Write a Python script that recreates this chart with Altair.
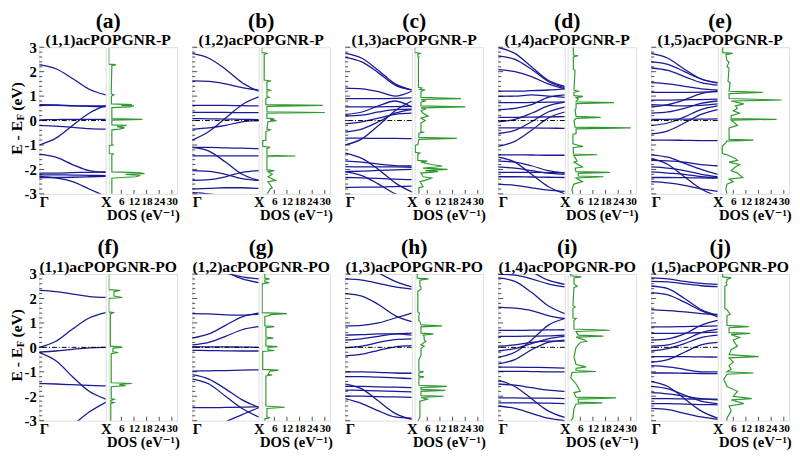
import altair as alt
import pandas as pd

# ---------------- data ----------------
K = [0.0, 0.25, 0.5, 0.75, 1.0]          # k-points Γ ... X
LETTERS = ["(a)", "(b)", "(c)", "(d)", "(e)", "(f)", "(g)", "(h)", "(i)", "(j)"]
NAMES = ["(1,1)acPOPGNR-P", "(1,2)acPOPGNR-P", "(1,3)acPOPGNR-P", "(1,4)acPOPGNR-P", "(1,5)acPOPGNR-P",
         "(1,1)acPOPGNR-PO", "(1,2)acPOPGNR-PO", "(1,3)acPOPGNR-PO", "(1,4)acPOPGNR-PO", "(1,5)acPOPGNR-PO"]
DOS_TICKS = [6, 12, 18, 24, 30]
Y_TICKS = [-3, -2, -1, 0, 1, 2, 3]
Y_MINOR = [-2.8, -2.6, -2.4, -2.2, -1.8, -1.6, -1.4, -1.2, -0.8, -0.6, -0.4, -0.2,
           0.2, 0.4, 0.6, 0.8, 1.2, 1.4, 1.6, 1.8, 2.2, 2.4, 2.6, 2.8]

BANDS_A = [[2.29, 2.12, 1.72, 1.28, 1.05], [0.65, 0.64, 0.61, 0.58, 0.56], [0.62, 0.62, 0.6, 0.6, 0.6],
           [-1.0, -0.72, -0.2, 0.3, 0.62], [0.03, 0.04, 0.05, 0.05, 0.05], [-0.2, -0.23, -0.28, -0.33, -0.35],
           [-1.37, -1.5, -1.8, -2.05, -2.12], [-2.15, -2.15, -2.13, -2.12, -2.1], [-2.22, -2.22, -2.23, -2.24, -2.25],
           [-2.33, -2.33, -2.32, -2.3, -2.28], [-2.28, -2.35, -2.5, -2.8, -3.1]]
DOS_A = [(3, 0), (2.31, 0), (2.29, 3.5), (2.25, 1.5), (1.1, 1.2), (1.05, 2.5), (1.0, 1.3), (0.68, 1.3), (0.65, 11),
         (0.62, 6), (0.6, 12), (0.56, 10), (0.53, 1.5), (0.08, 1.5), (0.05, 16), (0.02, 1.5), (-0.18, 1.5), (-0.2, 8.5),
         (-0.25, 4), (-0.3, 7.5), (-0.35, 5), (-0.38, 1.5), (-0.98, 1.5), (-1.0, 2), (-1.02, 0.2), (-1.35, 0.2),
         (-1.37, 2.5), (-1.4, 1.5), (-2.1, 1.5), (-2.13, 14), (-2.17, 17), (-2.2, 8), (-2.25, 15), (-2.3, 13),
         (-2.33, 6), (-2.36, 1.5), (-3, 1.5)]

BANDS_B = [[2.75, 2.55, 2.1, 1.55, 1.2], [1.62, 1.6, 1.5, 1.35, 1.24], [-0.8, -0.45, 0.1, 0.65, 0.97],
           [0.62, 0.62, 0.62, 0.61, 0.6], [0.33, 0.33, 0.33, 0.32, 0.32], [0.08, 0.07, 0.06, 0.05, 0.04],
           [-0.35, -0.3, -0.2, -0.05, 0.0], [-1.1, -1.1, -1.12, -1.13, -1.15], [-1.45, -1.45, -1.45, -1.45, -1.45],
           [-1.1, -1.25, -1.7, -2.2, -2.45], [-2.05, -2.08, -2.2, -2.38, -2.45], [-2.45, -2.42, -2.3, -2.12, -2.05],
           [-2.8, -2.78, -2.75, -2.75, -2.78], [-2.95, -3.0, -3.1, -3.2, -3.3]]
DOS_B = [(3, 0), (2.78, 0), (2.75, 2.5), (2.7, 1.2), (1.66, 1.2), (1.62, 4.5), (1.58, 2.5), (1.28, 2.5), (1.24, 4),
         (1.2, 2.5), (0.98, 2.5), (0.95, 3.5), (0.9, 2), (0.65, 2), (0.62, 29), (0.58, 2.5), (0.36, 2.5), (0.33, 30),
         (0.3, 2.5), (0.1, 2.5), (0.07, 6), (0.03, 4), (0.0, 7), (-0.05, 3), (-0.35, 2.5), (-0.38, 4), (-0.45, 2),
         (-0.8, 2), (-0.83, 0.5), (-1.05, 0.5), (-1.1, 4), (-1.14, 2.5), (-1.42, 2.5), (-1.45, 16), (-1.48, 2.5),
         (-2.02, 2.5), (-2.05, 6), (-2.1, 3), (-2.2, 5), (-2.3, 3), (-2.45, 6.5), (-2.5, 3), (-2.75, 5), (-2.8, 4),
         (-2.95, 3), (-3, 2.5)]

BANDS_C = [[2.75, 2.55, 2.05, 1.5, 1.25], [2.59, 2.4, 1.95, 1.45, 1.25], [1.33, 1.3, 1.18, 1.0, 1.2],
           [0.9, 0.9, 0.9, 0.91, 0.93], [-1.0, -0.75, -0.2, 0.4, 0.8], [0.56, 0.56, 0.56, 0.57, 0.58],
           [0.25, 0.35, 0.6, 0.8, 0.55], [0.18, 0.22, 0.35, 0.45, 0.47], [-0.13, -0.05, 0.1, 0.25, 0.3],
           [-0.47, -0.35, -0.05, 0.3, 0.45], [-0.72, -0.72, -0.73, -0.73, -0.74], [-1.33, -1.55, -2.0, -2.55, -2.92],
           [-1.66, -1.7, -1.78, -1.84, -1.86], [-1.89, -1.9, -1.9, -1.9, -1.92], [-2.09, -2.07, -2.04, -2.02, -2.0],
           [-2.33, -2.35, -2.37, -2.4, -2.42], [-2.1, -2.25, -2.6, -3.0, -3.3], [-2.73, -2.72, -2.72, -2.7, -2.68]]
DOS_C = [(3, 0), (2.78, 0), (2.75, 2.6), (2.7, 1.5), (2.62, 1.5), (2.59, 2), (2.55, 1.8), (1.36, 1.8), (1.33, 3.4),
         (1.28, 2.5), (1.25, 5), (1.2, 3), (0.95, 3), (0.9, 22), (0.86, 3), (0.8, 5), (0.75, 3), (0.6, 3), (0.56, 24),
         (0.52, 3), (0.47, 5), (0.4, 3), (0.3, 4), (0.18, 6.4), (0.1, 3), (0.0, 5), (-0.1, 3), (-0.45, 3), (-0.48, 4),
         (-0.52, 2), (-0.69, 2), (-0.73, 20), (-0.77, 2), (-0.98, 1.5), (-1.02, 0.3), (-1.3, 0.3), (-1.33, 2.5),
         (-1.38, 1.5), (-1.63, 1.5), (-1.66, 6), (-1.7, 3), (-1.8, 8), (-1.86, 13), (-1.9, 10), (-1.95, 4),
         (-2.0, 15.6), (-2.05, 5), (-2.09, 11), (-2.15, 3), (-2.3, 4), (-2.35, 8), (-2.42, 6), (-2.5, 2.5),
         (-2.7, 4), (-2.75, 2), (-3, 2)]

BANDS_D = [[2.98, 2.75, 2.2, 1.65, 1.4], [2.65, 2.5, 2.1, 1.6, 1.35], [2.08, 2.0, 1.8, 1.5, 1.3],
           [1.2, 1.2, 1.22, 1.25, 1.3], [0.99, 1.0, 1.05, 1.0, 0.95], [0.73, 0.73, 0.74, 0.75, 0.76],
           [0.45, 0.5, 0.65, 0.95, 1.05], [0.13, 0.13, 0.14, 0.15, 0.16], [-0.05, 0.05, 0.3, 0.6, 0.75],
           [-0.3, -0.3, -0.3, -0.31, -0.32], [-0.53, -0.4, -0.05, 0.35, 0.55], [-1.06, -0.85, -0.4, 0.1, 0.35],
           [-1.4, -1.4, -1.41, -1.42, -1.42], [-1.66, -1.7, -1.85, -2.05, -2.15], [-1.9, -1.95, -2.05, -2.15, -2.2],
           [-2.12, -2.12, -2.12, -2.13, -2.13], [-2.3, -2.3, -2.31, -2.32, -2.33], [-1.5, -1.7, -2.2, -2.7, -3.0],
           [-2.6, -2.65, -2.75, -2.85, -2.9]]
DOS_D = [(3, 2.7), (2.68, 2.7), (2.65, 5), (2.6, 2.7), (2.1, 2.7), (2.06, 3.5), (1.25, 3), (1.2, 5), (1.15, 3),
         (1.02, 3), (0.99, 7.3), (0.93, 4), (0.88, 5), (0.77, 4), (0.73, 22), (0.69, 4), (0.5, 4), (0.45, 3.5),
         (0.17, 4), (0.13, 15.7), (0.09, 4), (0.0, 3), (-0.27, 3.5), (-0.3, 30), (-0.34, 4), (-0.53, 4), (-0.56, 2.5),
         (-0.95, 2.5), (-1.06, 7.3), (-1.1, 2.7), (-1.37, 2.7), (-1.4, 14), (-1.43, 3), (-1.66, 4.5), (-1.7, 3),
         (-1.9, 7), (-1.95, 3.5), (-2.09, 4), (-2.12, 20), (-2.16, 5), (-2.27, 5), (-2.3, 17), (-2.35, 4),
         (-2.5, 7), (-2.6, 3), (-2.8, 2), (-3, 2.5)]

BANDS_E = [[2.75, 2.55, 2.1, 1.7, 1.53], [2.4, 2.3, 2.0, 1.7, 1.55], [2.15, 2.05, 1.8, 1.55, 1.45],
           [1.55, 1.5, 1.4, 1.3, 1.25], [1.15, 1.15, 1.15, 1.16, 1.18], [0.84, 0.84, 0.85, 0.86, 0.88],
           [0.55, 0.65, 0.85, 1.1, 1.2], [0.65, 0.62, 0.6, 0.62, 0.68], [0.3, 0.35, 0.5, 0.7, 0.8],
           [0.05, 0.05, 0.06, 0.06, 0.07], [-0.2, -0.1, 0.15, 0.45, 0.6], [-0.55, -0.42, -0.1, 0.25, 0.45],
           [-0.8, -0.8, -0.81, -0.82, -0.82], [-1.4, -1.5, -1.75, -2.0, -2.2], [-1.63, -1.65, -1.7, -1.8, -1.85],
           [-1.9, -1.95, -2.05, -2.2, -2.3], [-2.1, -2.15, -2.2, -2.3, -2.33], [-2.33, -2.33, -2.34, -2.35, -2.36],
           [-1.55, -1.8, -2.3, -2.8, -3.1], [-2.5, -2.55, -2.65, -2.8, -2.9]]
DOS_E = [(3, 1), (2.78, 1), (2.75, 5.7), (2.7, 2.5), (2.45, 3), (2.4, 4), (2.2, 3), (2.15, 4), (1.6, 3.5),
         (1.55, 4.5), (1.2, 4), (1.15, 20), (1.1, 4), (0.9, 4), (0.84, 29), (0.8, 5), (0.68, 11), (0.6, 7), (0.5, 8),
         (0.4, 6), (0.3, 9), (0.2, 5), (0.08, 5), (0.05, 26.6), (0.02, 5), (-0.2, 8), (-0.3, 4), (-0.55, 4),
         (-0.77, 4), (-0.8, 15.6), (-0.84, 3), (-0.95, 2), (-1.05, 0.8), (-1.35, 0.8), (-1.4, 3), (-1.55, 7),
         (-1.63, 8), (-1.7, 4), (-1.8, 9), (-1.9, 7), (-2.05, 5), (-2.15, 8), (-2.33, 10.5), (-2.4, 4), (-2.5, 6),
         (-2.6, 3), (-2.8, 2.5), (-3, 3)]

BANDS_F = [[2.33, 2.28, 2.18, 2.08, 2.04], [0.0, 0.25, 0.75, 1.2, 1.42], [-0.2, -0.15, -0.08, -0.02, 0.0],
           [-0.22, -0.55, -1.2, -1.8, -2.12], [-1.48, -1.5, -1.53, -1.56, -1.58], [-4.2, -3.8, -3.2, -2.65, -2.25]]
DOS_F = [(3, 0), (2.36, 0), (2.33, 5.5), (2.28, 2.5), (2.1, 2.5), (2.04, 6.5), (2.0, 0), (1.45, 0), (1.42, 2.2),
         (1.36, 0.8), (0.05, 0.8), (0.01, 6.5), (-0.04, 2), (-0.18, 2), (-0.21, 4.5), (-0.26, 1.2), (-1.45, 1.2),
         (-1.48, 11), (-1.52, 5), (-1.57, 8), (-1.61, 1.2), (-2.1, 1.2), (-2.13, 2.5), (-2.17, 1), (-2.23, 1),
         (-2.26, 2.5), (-2.3, 1), (-3, 1)]

BANDS_G = [[3.5, 3.3, 3.05, 2.88, 2.8], [3.7, 3.45, 3.1, 2.8, 2.65], [1.38, 1.37, 1.33, 1.32, 1.36],
           [0.38, 0.55, 0.9, 1.25, 1.4], [0.1, 0.2, 0.45, 0.72, 0.85], [0.03, 0.02, 0.02, 0.01, 0.0],
           [-0.12, -0.13, -0.14, -0.15, -0.15], [-0.97, -0.96, -0.95, -0.93, -0.92], [-1.12, -1.3, -1.7, -2.15, -2.45],
           [-1.3, -1.5, -2.0, -2.5, -2.85], [-2.47, -2.47, -2.46, -2.45, -2.43], [-3.6, -3.35, -3.05, -2.75, -2.47]]
DOS_G = [(3, 1.5), (2.83, 1.5), (2.8, 3.7), (2.76, 1.5), (2.68, 1.5), (2.65, 3.5), (2.6, 0.2), (1.42, 0.2),
         (1.38, 12), (1.34, 4), (1.3, 4), (1.26, 1.5), (0.88, 1.5), (0.85, 6), (0.8, 2), (0.42, 2), (0.38, 5.5),
         (0.34, 2), (0.06, 2), (0.03, 7.5), (0.0, 3), (-0.1, 3), (-0.13, 6), (-0.17, 0.5), (-0.9, 0.5), (-0.93, 8),
         (-0.97, 4), (-1.1, 3), (-1.13, 5), (-1.17, 2), (-2.4, 2), (-2.45, 11), (-2.5, 2.5), (-2.85, 2.5),
         (-2.88, 4), (-2.92, 1.5), (-3, 1.5)]

BANDS_H = [[2.8, 2.75, 2.62, 2.47, 2.38], [3.8, 3.45, 3.05, 2.7, 2.47], [2.2, 2.1, 1.75, 1.3, 1.05],
           [0.88, 0.9, 1.0, 1.2, 1.4], [0.5, 0.52, 0.55, 0.55, 0.5], [0.3, 0.35, 0.45, 0.55, 0.58],
           [-0.02, 0.05, 0.2, 0.32, 0.35], [-0.35, -0.28, -0.12, 0.02, 0.07], [-1.0, -1.0, -1.02, -1.05, -1.06],
           [-1.2, -1.2, -1.22, -1.25, -1.28], [-1.6, -1.6, -1.62, -1.63, -1.65], [-1.75, -1.76, -1.78, -1.8, -1.82],
           [-2.0, -2.0, -2.02, -2.03, -2.05], [-1.5, -1.7, -2.2, -2.7, -2.95], [-2.1, -2.3, -2.6, -2.85, -2.9]]
DOS_H = [(3, 1.2), (2.83, 1.2), (2.8, 6.6), (2.75, 2.5), (2.5, 2.5), (2.47, 3), (2.38, 3), (2.3, 1.5), (1.45, 1.5),
         (1.4, 2.3), (1.3, 2), (1.1, 2), (1.05, 2.5), (0.92, 3), (0.88, 13), (0.84, 3), (0.58, 3), (0.55, 8.9),
         (0.5, 4), (0.45, 4.5), (0.3, 4.5), (0.25, 5.3), (0.1, 3), (0.05, 4.5), (-0.05, 3), (-0.35, 3), (-0.5, 2),
         (-0.97, 2), (-1.0, 4.3), (-1.05, 2), (-1.18, 2), (-1.21, 4.5), (-1.25, 2), (-1.55, 2), (-1.6, 15.3),
         (-1.65, 3), (-1.72, 3), (-1.76, 14.5), (-1.8, 3), (-1.97, 3), (-2.0, 13.8), (-2.05, 3), (-2.12, 6),
         (-2.2, 2.5), (-2.85, 2.5), (-2.9, 2.3), (-3, 1.5)]

BANDS_I = [[3.0, 2.95, 2.8, 2.6, 2.47], [3.8, 3.5, 3.1, 2.75, 2.58], [2.84, 2.7, 2.25, 1.7, 1.38],
           [1.65, 1.6, 1.5, 1.3, 1.18], [0.69, 0.69, 0.7, 0.71, 0.72], [0.45, 0.45, 0.46, 0.47, 0.5],
           [-0.41, -0.2, 0.3, 0.9, 1.18], [0.05, 0.1, 0.2, 0.25, 0.25], [-0.15, -0.05, 0.15, 0.35, 0.45],
           [-0.68, -0.5, -0.1, 0.2, 0.3], [-0.81, -0.81, -0.82, -0.83, -0.85], [-0.98, -0.98, -0.99, -1.0, -1.0],
           [-1.34, -1.6, -2.1, -2.6, -2.87], [-1.5, -1.55, -1.65, -1.75, -1.8], [-2.07, -2.07, -2.08, -2.08, -2.1],
           [-2.27, -2.27, -2.27, -2.28, -2.3], [-2.4, -2.5, -2.7, -2.9, -3.0]]
DOS_I = [(3, 1.5), (2.93, 1.5), (2.88, 6.5), (2.84, 3), (2.6, 3), (2.5, 4.5), (2.45, 3), (1.7, 2.5), (1.65, 3.5),
         (1.6, 2.5), (1.2, 2.5), (1.18, 4), (1.1, 3), (0.75, 3), (0.7, 20), (0.65, 4), (0.5, 5), (0.46, 17),
         (0.42, 4), (0.3, 8), (0.25, 9), (0.2, 6), (0.1, 5), (0.0, 4), (-0.4, 3), (-0.7, 4), (-0.8, 8.8),
         (-0.86, 4), (-0.95, 4), (-0.99, 13.4), (-1.03, 2), (-1.25, 1.5), (-1.34, 2.5), (-1.5, 4), (-1.8, 6),
         (-1.85, 3), (-2.04, 4), (-2.07, 23), (-2.12, 5), (-2.24, 5), (-2.27, 16.5), (-2.32, 4), (-2.5, 3),
         (-2.9, 2.5), (-3, 1.5)]

BANDS_J = [[2.84, 2.8, 2.7, 2.62, 2.58], [2.7, 2.68, 2.6, 2.52, 2.48], [2.51, 2.4, 2.0, 1.55, 1.31],
           [2.24, 2.15, 1.85, 1.5, 1.25], [1.54, 1.5, 1.45, 1.38, 1.35], [0.84, 0.84, 0.85, 0.86, 0.88],
           [0.57, 0.57, 0.58, 0.6, 0.62], [0.3, 0.35, 0.55, 0.9, 1.1], [0.05, 0.1, 0.3, 0.6, 0.75],
           [-0.15, -0.05, 0.15, 0.4, 0.5], [-0.38, -0.38, -0.38, -0.39, -0.4], [-0.6, -0.5, -0.2, 0.1, 0.2],
           [-1.05, -1.05, -1.06, -1.07, -1.08], [-0.75, -0.8, -0.9, -1.0, -1.0], [-1.6, -1.7, -1.95, -2.2, -2.3],
           [-1.85, -1.9, -2.0, -2.1, -2.15], [-2.1, -2.1, -2.11, -2.12, -2.12], [-2.3, -2.3, -2.32, -2.34, -2.35],
           [-1.4, -1.6, -2.1, -2.6, -2.9], [-2.5, -2.55, -2.7, -2.85, -2.95]]
DOS_J = [(3, 1), (2.88, 1), (2.84, 5), (2.78, 3), (2.7, 3), (2.65, 2.5), (2.55, 3), (2.5, 2), (1.58, 2), (1.54, 3),
         (1.35, 4.6), (1.3, 3), (0.9, 3), (0.85, 13.3), (0.8, 4), (0.6, 4), (0.57, 14), (0.52, 5), (0.4, 9),
         (0.3, 6), (0.15, 7), (0.05, 8), (-0.1, 5), (-0.3, 4), (-0.38, 18), (-0.43, 4), (-0.6, 6), (-0.75, 4),
         (-0.9, 5), (-1.0, 3), (-1.05, 15.6), (-1.1, 3), (-1.3, 1.5), (-1.6, 3), (-1.8, 8), (-2.0, 6), (-2.1, 14.8),
         (-2.15, 5), (-2.3, 11), (-2.4, 4), (-2.6, 5), (-2.9, 3), (-3, 3)]

ALL_BANDS = [BANDS_A, BANDS_B, BANDS_C, BANDS_D, BANDS_E, BANDS_F, BANDS_G, BANDS_H, BANDS_I, BANDS_J]
ALL_DOS = [DOS_A, DOS_B, DOS_C, DOS_D, DOS_E, DOS_F, DOS_G, DOS_H, DOS_I, DOS_J]

# ---------------- styling ----------------
FONT = "Liberation Serif, Times New Roman, DejaVu Serif, serif"
BLUE = "#1a1a96"
GREEN = "#2f9a2f"
BW, DW, H, GAP = 68, 70, 150, 3
YSC = alt.Scale(domain=[-3, 3], nice=False, zero=False)


def text_piece(txt, x, y, size, angle=0, align="center", baseline="alphabetic"):
    return alt.Chart(pd.DataFrame({"t": [txt]})).mark_text(
        angle=angle, align=align, baseline=baseline, font=FONT, fontSize=size, fontWeight="bold", color="black"
    ).encode(x=alt.value(x), y=alt.value(y), text="t:N")


def band_panel(i):
    bands = ALL_BANDS[i]
    first = i % 5 == 0
    df = pd.DataFrame([{"k": k, "E": e, "b": j} for j, b in enumerate(bands) for k, e in zip(K, b)])
    if first:
        yaxis = alt.Axis(values=Y_TICKS, labelExpr="'' + datum.value", labelFont=FONT, labelFontSize=15,
                         labelFontWeight="bold", labelColor="black", labelOverlap=False, labelBound=False,
                         ticks=False, domain=False, grid=False, title=None, labelPadding=3)
    else:
        yaxis = None
    xaxis = alt.Axis(values=[0, 1], labelExpr="datum.value == 0 ? 'Γ' : 'X'",
                     labelAlign={"condition": {"test": "datum.value == 0", "value": "left"}, "value": "center"},
                     labelFont=FONT, labelFontSize=15, labelFontWeight="bold", labelColor="black",
                     labelFlush=False, labelOverlap=False, ticks=False, domain=False, grid=False,
                     title=None, labelPadding=1)
    ydef = alt.Y("E:Q", scale=YSC, axis=yaxis)
    lines = alt.Chart(df).mark_line(color=BLUE, strokeWidth=1.3, interpolate="monotone", clip=True).encode(
        x=alt.X("k:Q", scale=alt.Scale(domain=[0, 1], nice=False, zero=False), axis=xaxis),
        y=ydef,
        detail="b:N",
    )
    fermi = alt.Chart(pd.DataFrame({"E": [0]})).mark_rule(
        color="black", strokeWidth=1, strokeDash=[5, 2, 1, 2]).encode(y=ydef)
    major = alt.Chart(pd.DataFrame({"E": Y_TICKS})).mark_tick(
        orient="horizontal", size=5, thickness=1, color="black").encode(y=ydef, x=alt.value(2.5))
    minor = alt.Chart(pd.DataFrame({"E": Y_MINOR})).mark_tick(
        orient="horizontal", size=3, thickness=1, color="black").encode(y=ydef, x=alt.value(1.5))
    cx = (BW + GAP + DW) / 2
    layers = [lines, fermi, major, minor,
              text_piece(LETTERS[i], cx, -20, 22),
              text_piece(NAMES[i], cx, -2, 16)]
    if first:
        layers += [text_piece("E - E", -23, 110, 16, angle=270, align="left", baseline="middle"),
                   text_piece("F", -18.5, 75, 11, angle=270, align="left", baseline="middle"),
                   text_piece("(eV)", -23, 65, 16, angle=270, align="left", baseline="middle")]
    return alt.layer(*layers).properties(width=BW, height=H)


def dos_panel(points):
    df = pd.DataFrame(points, columns=["E", "D"])
    xaxis = alt.Axis(values=DOS_TICKS, labelFont=FONT, labelFontSize=11.5, labelFontWeight="bold",
                     labelColor="black", labelOverlap=False, labelFlush=False, labelBound=False,
                     ticks=False, domain=False, grid=False, labelPadding=2,
                     title="DOS (eV⁻¹)", titleFont=FONT, titleFontSize=15, titleFontWeight="bold",
                     titleColor="black", titlePadding=1)
    xsc = alt.Scale(domain=[0, 32.5], nice=False, zero=False)
    line = alt.Chart(df).mark_line(color=GREEN, strokeWidth=1.2, clip=True).encode(
        x=alt.X("D:Q", scale=xsc, axis=xaxis),
        y=alt.Y("E:Q", scale=YSC, axis=None),
        order="E:Q",
    )
    ticks = alt.Chart(pd.DataFrame({"D": DOS_TICKS})).mark_tick(
        orient="vertical", size=4, thickness=1, color="black").encode(
        x=alt.X("D:Q", scale=xsc, axis=xaxis), y=alt.value(H - 2))
    return alt.layer(line, ticks).properties(width=DW, height=H)


def panel(i):
    return alt.hconcat(band_panel(i), dos_panel(ALL_DOS[i]), spacing=GAP, bounds="flush")


row1 = alt.hconcat(*[panel(i) for i in range(5)], spacing=11.5)
row2 = alt.hconcat(*[panel(i) for i in range(5, 10)], spacing=11.5)

chart = alt.vconcat(row1, row2, spacing=13).properties(
    padding={"left": 0, "top": -4, "right": 0, "bottom": 0}
).configure_view(stroke="black", strokeWidth=1.5).configure_axis(
    labelOverlap=False
).configure(background="white")

chart.save("out.html", embed_options={"renderer": "svg", "actions": False})
